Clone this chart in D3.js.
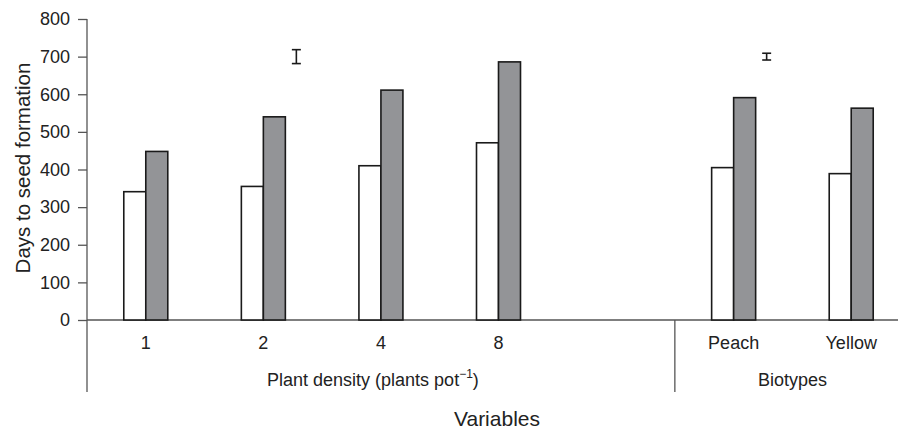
<!DOCTYPE html>
<html>
<head>
<meta charset="utf-8">
<script src="https://cdn.jsdelivr.net/npm/d3@7"></script>
<style>
  body { margin: 0; background: #fff; }
  svg { display: block; font-family: "Liberation Sans", Arial, sans-serif; }
  .axis text { font-size: 18px; fill: #222; }
  .axis line, .axis path { stroke: #555; stroke-width: 1.3; }
</style>
</head>
<body>
<svg id="chart" width="898" height="430"></svg>
<script>
// categories (blank slot separates the two groups)
const categories = ['1', '2', '4', '8', '', 'Peach', 'Yellow'];
const whiteValues = [341, 355, 410, 471, null, 405, 389];
const grayValues = [448, 540, 611, 686, null, 591, 563];
const yTicks = [0, 100, 200, 300, 400, 500, 600, 700, 800];

// LSD style error bars
const errCats = ['2', 'Peach'];
const errCenters = [700, 700];
const errHalf = [18.5, 9];

const svg = d3.select('#chart');
const plotLeft = 87, plotTop = 19, plotBottom = 320, plotRight = 910;

const y = d3.scaleLinear().domain([0, 800]).range([plotBottom, plotTop]);
const x = d3.scaleBand().domain(categories).range([plotLeft, plotRight]);
const step = x.step();
const barW = 22;

// y axis
const yAxis = svg.append('g')
  .attr('class', 'axis')
  .attr('transform', `translate(${plotLeft},0)`)
  .call(d3.axisLeft(y).tickValues(yTicks).tickSize(9).tickPadding(8));
yAxis.select('.domain').remove();

svg.append('line')
  .attr('x1', plotLeft).attr('x2', plotLeft)
  .attr('y1', plotTop).attr('y2', 392)
  .attr('stroke', '#555').attr('stroke-width', 1.3);

// baseline
svg.append('line')
  .attr('x1', plotLeft).attr('x2', 898)
  .attr('y1', y(0)).attr('y2', y(0))
  .attr('stroke', '#555').attr('stroke-width', 1.3);

// divider between groups
svg.append('line')
  .attr('x1', x('Peach')).attr('x2', x('Peach'))
  .attr('y1', y(0)).attr('y2', 392)
  .attr('stroke', '#555').attr('stroke-width', 1.3);

// bars
const g = svg.append('g');
categories.forEach((c, i) => {
  if (whiteValues[i] == null) return;
  const cx = x(c) + step / 2;
  g.append('rect')
    .attr('x', cx - barW).attr('width', barW)
    .attr('y', y(whiteValues[i])).attr('height', y(0) - y(whiteValues[i]))
    .attr('fill', '#fff').attr('stroke', '#1a1a1a').attr('stroke-width', 1.6);
  g.append('rect')
    .attr('x', cx).attr('width', barW)
    .attr('y', y(grayValues[i])).attr('height', y(0) - y(grayValues[i]))
    .attr('fill', '#939497').attr('stroke', '#1a1a1a').attr('stroke-width', 1.6);
});

// error bars
errCats.forEach((c, i) => {
  const ex = x(c) + step / 2 + barW * 1.5;
  const y1 = y(errCenters[i] + errHalf[i]), y2 = y(errCenters[i] - errHalf[i]);
  const eg = svg.append('g').attr('stroke', '#1a1a1a').attr('stroke-width', 1.6);
  eg.append('line').attr('x1', ex).attr('x2', ex).attr('y1', y1).attr('y2', y2);
  eg.append('line').attr('x1', ex - 4.5).attr('x2', ex + 4.5).attr('y1', y1).attr('y2', y1);
  eg.append('line').attr('x1', ex - 4.5).attr('x2', ex + 4.5).attr('y1', y2).attr('y2', y2);
});

// category labels
svg.append('g').selectAll('text')
  .data(categories.filter(c => c !== ''))
  .enter().append('text')
  .attr('x', d => x(d) + step / 2)
  .attr('y', 349)
  .attr('text-anchor', 'middle')
  .attr('font-size', 18).attr('fill', '#222')
  .text(d => d);

// group labels
const pd = svg.append('text')
  .attr('x', (plotLeft + x('Peach')) / 2 - 8).attr('y', 386)
  .attr('text-anchor', 'middle').attr('font-size', 18).attr('fill', '#222');
pd.append('tspan').text('Plant density (plants pot');
pd.append('tspan').attr('font-size', 12).attr('dy', -8).text('\u22121');
pd.append('tspan').attr('dy', 8).text(')');

svg.append('text')
  .attr('x', (x('Peach') + plotRight) / 2).attr('y', 386)
  .attr('text-anchor', 'middle').attr('font-size', 18).attr('fill', '#222')
  .text('Biotypes');

// axis titles
svg.append('text')
  .attr('x', 497).attr('y', 426)
  .attr('text-anchor', 'middle').attr('font-size', 21).attr('fill', '#222')
  .text('Variables');

svg.append('text')
  .attr('transform', 'translate(30,168) rotate(-90)')
  .attr('text-anchor', 'middle').attr('font-size', 20.5).attr('fill', '#222')
  .text('Days to seed formation');
</script>
</body>
</html>
